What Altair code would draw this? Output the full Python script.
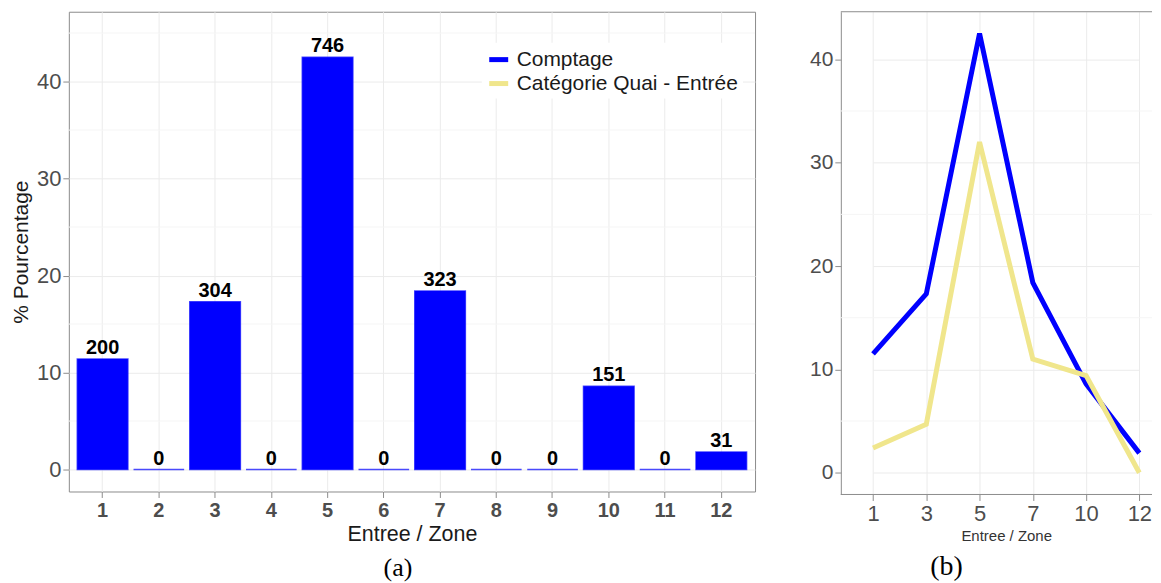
import altair as alt
import pandas as pd

# ---------------- data ----------------
zones_a = ["1", "2", "3", "4", "5", "6", "7", "8", "9", "10", "11", "12"]
pct_a = [11.4, 0.0, 17.3, 0.0, 42.5, 0.0, 18.4, 0.0, 0.0, 8.6, 0.0, 1.8]
count_a = [200, 0, 304, 0, 746, 0, 323, 0, 0, 151, 0, 31]

zones_b = ["1", "3", "5", "7", "10", "12"]
comptage_b = [11.5, 17.3, 42.5, 18.4, 8.6, 1.9]
categorie_b = [2.4, 4.7, 32.0, 11.0, 9.4, 0.0]

series_names = ["Comptage", "Catégorie Quai - Entrée"]
series_colors = ["#0000FF", "#F0E68C"]

y_major = [0, 10, 20, 30, 40]
minor_a = [5, 15, 25, 35, 45]
minor_b = [5, 15, 25, 35]
frame_b = [44.6, -2.1]

# ---------------- styles ----------------
FONT = "Liberation Sans"
SERIF = "Liberation Serif"
BORDER = "#8c8c8c"
LABEL = "#4d4d4d"
TITLE = "#1a1a1a"
GRID = "#ebebeb"
GRID_MINOR = "#f5f5f5"

# ---------------- panel (a) ----------------
df_a = pd.DataFrame({"zone": zones_a, "pct": pct_a, "count": count_a,
                     "series": series_names[0]})
df_minor_a = pd.DataFrame({"v": minor_a})

ya = alt.Scale(domain=[-2.26, 47.2], nice=False, zero=False)
ya_axis = alt.Axis(values=y_major, title="% Pourcentage", labelFont=FONT,
                   labelFontSize=22, labelColor=LABEL, labelPadding=2,
                   tickSize=6, tickColor=BORDER, domain=False, grid=True,
                   gridColor=GRID, titleFont=FONT, titleFontSize=21,
                   titleFontWeight="normal", titleColor=TITLE, titlePadding=4.5)

xa_axis = alt.Axis(title="Entree / Zone", labelAngle=0, labelFont=FONT,
                   labelFontSize=20, labelFontWeight="bold", labelColor=LABEL,
                   labelPadding=3, tickSize=6, tickColor=BORDER, domain=False,
                   grid=True, gridColor=GRID, bandPosition=0.5,
                   titleFont=FONT, titleFontSize=21.5, titleFontWeight="normal",
                   titleColor=TITLE, titlePadding=3)
xa = alt.X("zone:N", sort=zones_a,
           scale=alt.Scale(paddingInner=0.1, paddingOuter=0.15), axis=xa_axis)

minor_grid_a = alt.Chart(df_minor_a).mark_rule(color=GRID_MINOR, strokeWidth=1).encode(
    y=alt.Y("v:Q", scale=ya, axis=ya_axis))

bars = alt.Chart(df_a).mark_bar(filled=False, fill="#0000FF", strokeWidth=1.5,
                                strokeOpacity=0.7).encode(
    x=xa,
    y=alt.Y("pct:Q", scale=ya, axis=ya_axis),
    y2=alt.datum(0),
    color=alt.Color("series:N",
                    scale=alt.Scale(domain=series_names, range=series_colors),
                    legend=alt.Legend(title=None, orient="none", legendX=414, legendY=31,
                                      symbolType="stroke", symbolStrokeWidth=5,
                                      symbolSize=361, symbolOpacity=1,
                                      labelFont=FONT, labelFontSize=21,
                                      labelColor=TITLE, labelLimit=0, fillColor="white",
                                      padding=5, rowPadding=2, labelOffset=6)),
)

labels = alt.Chart(df_a).mark_text(font=FONT, fontSize=20, fontWeight="bold",
                                   baseline="bottom", dy=-1, color="black").encode(
    x=alt.X("zone:N", sort=zones_a, axis=xa_axis),
    y=alt.Y("pct:Q", scale=ya, axis=ya_axis), text="count:Q")

panel_a = alt.layer(minor_grid_a, bars, labels).properties(
    width=688, height=481,
    title=alt.TitleParams("(a)", orient="bottom", anchor="middle", frame="group",
                          font=SERIF, fontSize=26, fontWeight="normal", color="black",
                          offset=10, dx=-14))

# ---------------- panel (b) ----------------
df_b1 = pd.DataFrame({"zone": zones_b, "val": comptage_b})
df_b2 = pd.DataFrame({"zone": zones_b, "val": categorie_b})
df_minor_b = pd.DataFrame({"v": minor_b})
df_frame_b = pd.DataFrame({"v": frame_b})

yb = alt.Scale(domain=[-2.1, 44.6], nice=False, zero=False)
xb_axis = alt.Axis(title="Entree / Zone", labelAngle=0, labelFont=FONT,
                   labelFontSize=22, labelColor=LABEL, labelPadding=3,
                   tickSize=6, tickColor=BORDER, domain=False,
                   grid=True, gridColor=GRID, titleFont=FONT, titleFontSize=15,
                   titleFontWeight="normal", titleColor="#333333",
                   titlePadding=4)
xb_scale = alt.Scale(type="point", range=[32.3, 299.3], padding=0)
yb_axis = alt.Axis(values=y_major, title=None, labelFont=FONT, labelFontSize=21,
                   labelColor=LABEL, labelPadding=2, tickSize=6, tickColor=BORDER,
                   domain=True, domainColor=BORDER, grid=True, gridColor=GRID)

minor_grid_b = alt.Chart(df_minor_b).mark_rule(color=GRID_MINOR, strokeWidth=1).encode(
    y=alt.Y("v:Q", scale=yb, axis=yb_axis))
frame_lines_b = alt.Chart(df_frame_b).mark_rule(color=BORDER, strokeWidth=1).encode(
    y=alt.Y("v:Q", scale=yb, axis=yb_axis))

line_blue = alt.Chart(df_b1).mark_line(color=series_colors[0], strokeWidth=5).encode(
    x=alt.X("zone:O", sort=zones_b, scale=xb_scale, axis=xb_axis),
    y=alt.Y("val:Q", scale=yb, axis=yb_axis))
line_yellow = alt.Chart(df_b2).mark_line(color=series_colors[1], strokeWidth=5).encode(
    x=alt.X("zone:O", sort=zones_b, scale=xb_scale, axis=xb_axis),
    y=alt.Y("val:Q", scale=yb, axis=yb_axis))

panel_b = alt.layer(minor_grid_b, line_blue, line_yellow, frame_lines_b).properties(
    width=312, height=484,
    view=alt.ViewBackground(stroke="transparent"),
    title=alt.TitleParams("(b)", orient="bottom", anchor="middle", frame="group",
                          font=SERIF, fontSize=28, fontWeight="normal", color="black",
                          offset=10, dx=-50))

chart = alt.hconcat(panel_a, panel_b, spacing=53).properties(
    padding={"left": 2, "top": 2, "right": 0, "bottom": 0}
).configure(font=FONT).configure_view(stroke=BORDER)

chart.save("out.html", embed_options={"renderer": "svg", "actions": False})
